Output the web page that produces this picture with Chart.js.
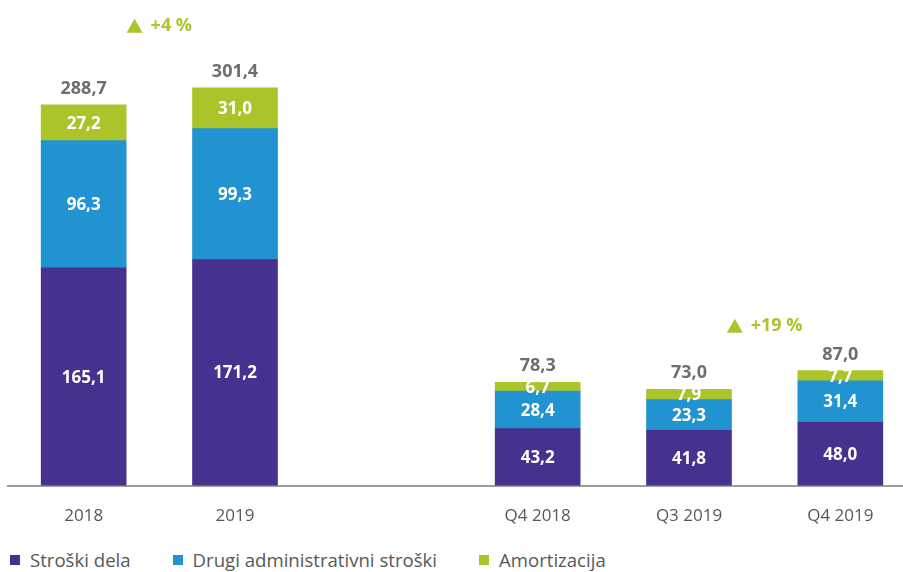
<!DOCTYPE html>
<html>
<head>
<meta charset="utf-8">
<script src="https://cdn.jsdelivr.net/npm/chart.js@4/dist/chart.umd.min.js"></script>
<style>
  html, body { margin: 0; padding: 0; background: #fff; }
  #wrap { position: relative; width: 903px; height: 572px; overflow: hidden; }
  #legend { position: absolute; left: 10px; top: 547px; display: flex; font-family: "Open Sans", sans-serif; font-size: 18.6px; color: #58585a; }
  #legend span.item { display: flex; align-items: center; margin-right: 42px; }
  #legend span.box { width: 10px; height: 10px; margin-right: 10px; display: inline-block; }
</style>
</head>
<body>
<div id="wrap">
  <canvas id="c" width="916" height="538"></canvas>
  <div id="legend"></div>
</div>
<script>
// kategorije (prazna kategorija = razmik med letnimi in četrtletnimi podatki)
const categories = ['2018', '2019', '', 'Q4 2018', 'Q3 2019', 'Q4 2019'];
const seriesNames = ['Stroški dela', 'Drugi administrativni stroški', 'Amortizacija'];
const strosekDela = [165.1, 171.2, null, 43.2, 41.8, 48.0];
const drugiStroski = [96.3, 99.3, null, 28.4, 23.3, 31.4];
const amortizacija = [27.2, 31.0, null, 6.7, 7.9, 7.7];
const totals = [288.7, 301.4, null, 78.3, 73.0, 87.0];
// rast: [od, do, besedilo]
const growth = [[0, 1, '+4 %'], [4, 5, '+19 %']];

const colors = ['#46318f', '#2193d0', '#abc42a'];
const fontFamily = '"Open Sans", sans-serif';

const fmt = v => v.toFixed(1).replace('.', ',');

// izpis vrednosti, vsot in rasti
const labelsPlugin = {
  id: 'labels',
  afterDatasetsDraw(chart) {
    const ctx = chart.ctx;
    ctx.save();
    ctx.textAlign = 'center';
    ctx.textBaseline = 'middle';
    ctx.font = 'bold 17px ' + fontFamily;
    ctx.fillStyle = '#fff';
    chart.data.datasets.forEach((ds, di) => {
      chart.getDatasetMeta(di).data.forEach((bar, i) => {
        if (ds.data[i] == null) return;
        ctx.fillText(fmt(ds.data[i]), bar.x, (bar.y + bar.base) / 2 + 1);
      });
    });
    const top = chart.getDatasetMeta(2).data;
    ctx.fillStyle = '#6d6e71';
    ctx.font = 'bold 18px ' + fontFamily;
    totals.forEach((t, i) => {
      if (t == null) return;
      ctx.fillText(fmt(t), top[i].x, top[i].y - 16);
    });
    // rast
    const rise = [62, 45];
    ctx.font = 'bold 18px ' + fontFamily;
    growth.forEach(([a, b, txt], k) => {
      const x = (top[a].x + top[b].x) / 2;
      const y = Math.min(top[a].y, top[b].y) - rise[k];
      const tw = ctx.measureText(txt).width;
      const w = 16 + 8 + tw;
      const x0 = x - w / 2;
      ctx.fillStyle = '#abc42a';
      ctx.beginPath();
      ctx.moveTo(x0, y + 7);
      ctx.lineTo(x0 + 16, y + 7);
      ctx.lineTo(x0 + 8, y - 7);
      ctx.closePath();
      ctx.fill();
      ctx.textAlign = 'left';
      ctx.fillText(txt, x0 + 24, y);
    });
    ctx.restore();
  }
};

const datasets = [strosekDela, drugiStroski, amortizacija].map((d, i) => ({
  label: seriesNames[i],
  data: d,
  backgroundColor: colors[i],
  barThickness: 85,
  borderWidth: 0
}));

const chart = new Chart(document.getElementById('c'), {
  type: 'bar',
  data: { labels: categories, datasets },
  options: {
    responsive: false,
    animation: false,
    layout: { padding: { left: 8, right: 0, top: 0, bottom: 0 } },
    plugins: { legend: { display: false }, tooltip: { enabled: false } },
    scales: {
      x: {
        stacked: true,
        grid: { display: false },
        border: { display: true, color: '#9d9d9d', width: 2 },
        ticks: { color: '#58585a', padding: 12, font: { family: fontFamily, size: 17 } }
      },
      y: { stacked: true, display: false, min: 0, max: 368 }
    }
  },
  plugins: [labelsPlugin]
});

// legenda
const legend = document.getElementById('legend');
chart.data.datasets.forEach(ds => {
  const item = document.createElement('span');
  item.className = 'item';
  const box = document.createElement('span');
  box.className = 'box';
  box.style.background = ds.backgroundColor;
  item.appendChild(box);
  item.appendChild(document.createTextNode(ds.label));
  legend.appendChild(item);
});
</script>
</body>
</html>
